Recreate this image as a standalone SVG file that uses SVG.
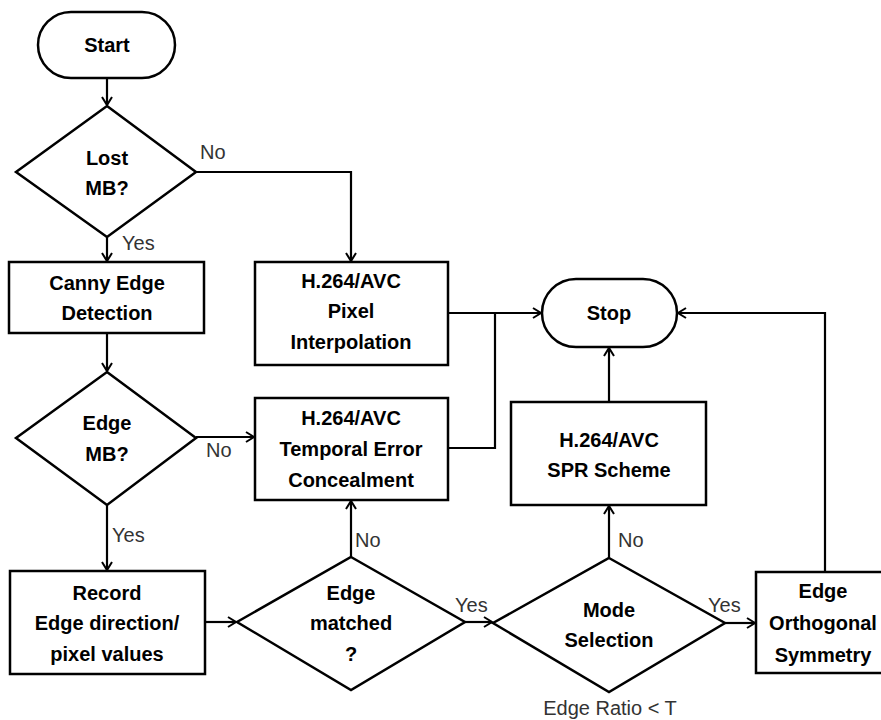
<svg xmlns="http://www.w3.org/2000/svg" width="881" height="720" viewBox="0 0 881 720">
<defs>
<marker id="arr" markerWidth="12" markerHeight="12" refX="10" refY="6" orient="auto" markerUnits="userSpaceOnUse">
<path d="M2,1 L10,6 L2,11" fill="none" stroke="#000" stroke-width="2"/>
</marker>
<style>
.s{fill:#fff;stroke:#000;stroke-width:2.5}
.t{font-family:"Liberation Sans",Arial,sans-serif;font-weight:bold;font-size:20px;fill:#000;text-anchor:middle}
.l{font-family:"Liberation Sans",Arial,sans-serif;font-size:20px;fill:#333}
.c{fill:none;stroke:#000;stroke-width:2.2}
</style>
</defs>
<rect width="881" height="720" fill="#fff"/>
<g id="connectors">
<path class="c" d="M107,78 V105" marker-end="url(#arr)"/>
<path class="c" d="M196,172 H351 V261" marker-end="url(#arr)"/>
<path class="c" d="M107,237 V261" marker-end="url(#arr)"/>
<path class="c" d="M107,333 V371" marker-end="url(#arr)"/>
<path class="c" d="M196,437 H254" marker-end="url(#arr)"/>
<path class="c" d="M107,505 V570" marker-end="url(#arr)"/>
<path class="c" d="M205,622 H236" marker-end="url(#arr)"/>
<path class="c" d="M351,557 V501" marker-end="url(#arr)"/>
<path class="c" d="M448,313 H541" marker-end="url(#arr)"/>
<path class="c" d="M448,448 H495 V313"/>
<path class="c" d="M465,622 H492" marker-end="url(#arr)"/>
<path class="c" d="M609,558 V506" marker-end="url(#arr)"/>
<path class="c" d="M609,402 V348" marker-end="url(#arr)"/>
<path class="c" d="M725,623 H755" marker-end="url(#arr)"/>
<path class="c" d="M825,572 V313 H678" marker-end="url(#arr)"/>
<text class="l" x="200" y="159">No</text>
<text class="l" x="122" y="250">Yes</text>
<text class="l" x="206" y="457">No</text>
<text class="l" x="112" y="542">Yes</text>
<text class="l" x="355" y="547">No</text>
<text class="l" x="455" y="612">Yes</text>
<text class="l" x="618" y="547">No</text>
<text class="l" x="708" y="612">Yes</text>
<text class="l" x="610" y="715" text-anchor="middle" font-size="21">Edge Ratio &lt; T</text>
</g>
<g id="start">
<rect class="s" x="38" y="12" width="137" height="66" rx="33"/>
<text class="t" x="107" y="52">Start</text>
</g>
<g id="lost-mb">
<polygon class="s" points="107,106 196,172 107,237 16,172"/>
<text class="t" x="107" y="165">Lost</text>
<text class="t" x="107" y="195">MB?</text>
</g>
<g id="canny">
<rect class="s" x="9" y="262" width="195" height="71"/>
<text class="t" x="107" y="290">Canny Edge</text>
<text class="t" x="107" y="320">Detection</text>
</g>
<g id="pixel-interp">
<rect class="s" x="255" y="262" width="193" height="103"/>
<text class="t" x="351" y="288">H.264/AVC</text>
<text class="t" x="351" y="318">Pixel</text>
<text class="t" x="351" y="349">Interpolation</text>
</g>
<g id="edge-mb">
<polygon class="s" points="107,372 196,438 107,505 16,438"/>
<text class="t" x="107" y="430">Edge</text>
<text class="t" x="107" y="461">MB?</text>
</g>
<g id="temporal">
<rect class="s" x="255" y="398" width="193" height="102"/>
<text class="t" x="351" y="425">H.264/AVC</text>
<text class="t" x="351" y="456">Temporal Error</text>
<text class="t" x="351" y="487">Concealment</text>
</g>
<g id="record">
<rect class="s" x="10" y="571" width="195" height="103"/>
<text class="t" x="107" y="600">Record</text>
<text class="t" x="107" y="630">Edge direction/</text>
<text class="t" x="107" y="661">pixel values</text>
</g>
<g id="edge-matched">
<polygon class="s" points="351,557 465,622 351,690 237,622"/>
<text class="t" x="351" y="600">Edge</text>
<text class="t" x="351" y="630">matched</text>
<text class="t" x="351" y="661">?</text>
</g>
<g id="stop">
<rect class="s" x="542" y="279" width="135" height="68" rx="34"/>
<text class="t" x="609" y="320">Stop</text>
</g>
<g id="spr">
<rect class="s" x="511" y="402" width="195" height="103"/>
<text class="t" x="609" y="447">H.264/AVC</text>
<text class="t" x="609" y="477">SPR Scheme</text>
</g>
<g id="mode-selection">
<polygon class="s" points="609,558 725,623 609,692 493,623"/>
<text class="t" x="609" y="617">Mode</text>
<text class="t" x="609" y="647">Selection</text>
</g>
<g id="orthogonal">
<rect class="s" x="756" y="572" width="130" height="101"/>
<text class="t" x="823" y="598">Edge</text>
<text class="t" x="823" y="630">Orthogonal</text>
<text class="t" x="823" y="662">Symmetry</text>
</g>
</svg>
